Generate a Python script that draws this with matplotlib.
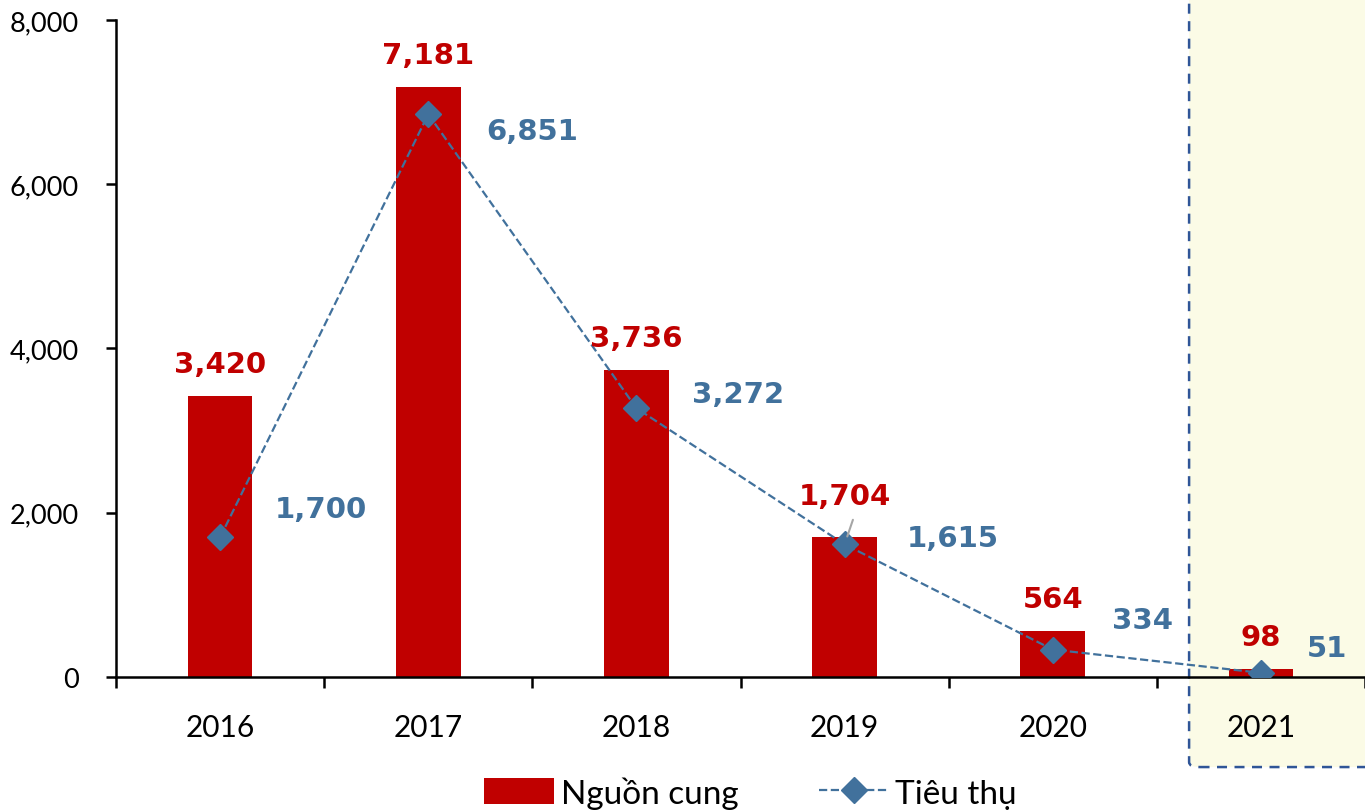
import matplotlib.pyplot as plt
import matplotlib.transforms as mtransforms
from matplotlib.patches import FancyBboxPatch
from matplotlib.ticker import FuncFormatter, FixedLocator

years = ['2016', '2017', '2018', '2019', '2020', '2021']
supply = [3420, 7181, 3736, 1704, 564, 98]        # Nguồn cung
consumption = [1700, 6851, 3272, 1615, 334, 51]   # Tiêu thụ

RED = '#C00000'
BLUE = '#41719C'

plt.rcParams['font.family'] = ['Lato', 'DejaVu Sans']

fig = plt.figure(figsize=(13.65, 8.12), dpi=100)
ax = fig.add_axes([0.085, 0.165, 0.915, 0.8093])
ax.set_facecolor('none')

x = list(range(len(years)))
bars = ax.bar(x, supply, width=0.31, color=RED, zorder=2, label='Nguồn cung')
line, = ax.plot(x, consumption, color=BLUE, linestyle='--', linewidth=1.6,
                marker='D', markersize=13, markerfacecolor=BLUE,
                markeredgecolor=BLUE, zorder=3, label='Tiêu thụ')

ax.set_xlim(-0.5, 5.5)
ax.set_ylim(0, 8000)

# highlight box for 2021
trans = mtransforms.blended_transform_factory(ax.transData, ax.transAxes)
box = FancyBboxPatch((4.655, -0.137), 1.0, 1.25,
                     boxstyle='round,pad=0,rounding_size=0.05',
                     transform=trans, clip_on=False,
                     facecolor='#FBFBE6', edgecolor='#2F5597',
                     linestyle=(0, (4, 3)), linewidth=1.8, zorder=0,
                     mutation_aspect=0.15)
ax.add_patch(box)

# red labels above bars
for i, v in enumerate(supply):
    dy = 41 if i == 3 else 32
    ax.annotate(f'{v:,}', (i, v), xytext=(0, dy), textcoords='offset pixels',
                ha='center', va='center', color=RED, fontsize=21,
                fontweight='bold', family='DejaVu Sans', zorder=5)
# leader line for 1,704
ax.annotate('', (3, consumption[3]), xytext=(3.04, supply[3] + 210),
            arrowprops=dict(arrowstyle='-', color='#A6A6A6', lw=1.5,
                            shrinkA=0, shrinkB=6), zorder=4)

# blue labels beside markers
offsets = [(55, 28), (58, -17), (56, 14), (62, 6), (59, 30), (46, 25)]
for i, v in enumerate(consumption):
    ox, oy = offsets[i]
    ax.annotate(f'{v:,}', (i, v), xytext=(ox, oy), textcoords='offset pixels',
                ha='left', va='center', color=BLUE, fontsize=21,
                fontweight='bold', family='DejaVu Sans', zorder=5)

# axes styling
for s in ['top', 'right']:
    ax.spines[s].set_visible(False)
for s in ['left', 'bottom']:
    ax.spines[s].set_linewidth(1.8)
ax.spines['left'].set_bounds(0, 8000)

ax.set_yticks([0, 2000, 4000, 6000, 8000])
ax.yaxis.set_major_formatter(FuncFormatter(lambda v, p: f'{int(v):,}'))
ax.tick_params(axis='y', length=7, width=1.8, pad=20, labelsize=19.5)

ax.set_xticks(x)
ax.set_xticklabels(years)
ax.tick_params(axis='x', which='major', length=0, pad=26, labelsize=21.5)
ax.xaxis.set_minor_locator(FixedLocator([i - 0.5 for i in range(len(years) + 1)]))
ax.tick_params(axis='x', which='minor', length=8, width=1.8)

fig.legend(handles=[bars, line], labels=['Nguồn cung', 'Tiêu thụ'],
           loc='center', bbox_to_anchor=(0.55, 0.023), ncol=2, frameon=False,
           fontsize=24, handlelength=2.1, handleheight=0.8, columnspacing=2.4,
           handletextpad=0.2)

fig.savefig('out.png', dpi=100, facecolor='white')
